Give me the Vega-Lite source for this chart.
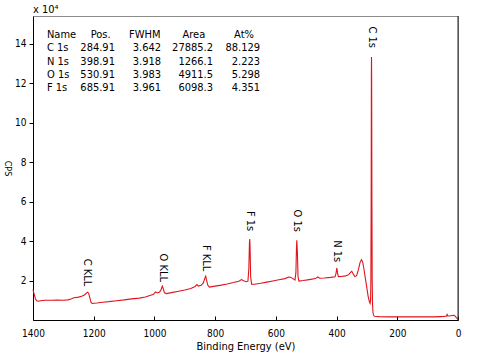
{
  "$schema": "https://vega.github.io/schema/vega-lite/v6.json",
  "width": 425,
  "height": 304,
  "autosize": {"type": "none"},
  "padding": {"left": 33, "top": 16, "right": 32, "bottom": 38},
  "background": "white",
  "config": {
    "font": "DejaVu Sans Condensed, DejaVu Sans, sans-serif",
    "view": {"stroke": "#8c8c8c", "strokeWidth": 1},
    "axis": {"grid": false, "labelColor": "#000", "titleColor": "#000", "domainColor": "#000", "tickColor": "#000", "titleFontWeight": "normal", "labelFont": "DejaVu Sans Condensed, DejaVu Sans, sans-serif", "titleFont": "DejaVu Sans Condensed, DejaVu Sans, sans-serif"},
    "text": {"font": "DejaVu Sans Condensed, DejaVu Sans, sans-serif", "color": "#000"}
  },
  "title": {"text": "x 10⁴", "anchor": "start", "frame": "group", "fontSize": 11, "fontWeight": "normal", "offset": 1, "color": "#000", "font": "DejaVu Sans Condensed, DejaVu Sans, sans-serif"},
  "datasets": {
    "spectrum": [
      {"be": 1400, "cps": 1.54}, {"be": 1396, "cps": 1.3}, {"be": 1392, "cps": 1.08}, {"be": 1388, "cps": 0.97}, {"be": 1383, "cps": 0.95},
      {"be": 1375, "cps": 0.98}, {"be": 1360, "cps": 1.0}, {"be": 1340, "cps": 1.0}, {"be": 1320, "cps": 1.01}, {"be": 1300, "cps": 1.0},
      {"be": 1285, "cps": 1.02}, {"be": 1275, "cps": 1.06}, {"be": 1265, "cps": 1.13}, {"be": 1250, "cps": 1.16}, {"be": 1240, "cps": 1.2},
      {"be": 1232, "cps": 1.25}, {"be": 1226, "cps": 1.33}, {"be": 1221, "cps": 1.41}, {"be": 1217, "cps": 1.37}, {"be": 1213, "cps": 1.15},
      {"be": 1209, "cps": 0.9}, {"be": 1205, "cps": 0.84}, {"be": 1190, "cps": 0.86}, {"be": 1170, "cps": 0.9}, {"be": 1150, "cps": 0.93},
      {"be": 1125, "cps": 0.98}, {"be": 1100, "cps": 1.02}, {"be": 1075, "cps": 1.07}, {"be": 1050, "cps": 1.11}, {"be": 1030, "cps": 1.17},
      {"be": 1015, "cps": 1.24}, {"be": 1003, "cps": 1.3}, {"be": 997, "cps": 1.42}, {"be": 991, "cps": 1.37}, {"be": 983, "cps": 1.42},
      {"be": 978, "cps": 1.55}, {"be": 974, "cps": 1.72}, {"be": 971, "cps": 1.6}, {"be": 967, "cps": 1.38}, {"be": 960, "cps": 1.34},
      {"be": 940, "cps": 1.4}, {"be": 920, "cps": 1.46}, {"be": 900, "cps": 1.52}, {"be": 880, "cps": 1.6}, {"be": 866, "cps": 1.7},
      {"be": 860, "cps": 1.8}, {"be": 855, "cps": 1.72}, {"be": 846, "cps": 1.76}, {"be": 839, "cps": 1.88}, {"be": 834, "cps": 2.12},
      {"be": 831, "cps": 2.22}, {"be": 828, "cps": 2.0}, {"be": 824, "cps": 1.76}, {"be": 819, "cps": 1.67}, {"be": 800, "cps": 1.72},
      {"be": 780, "cps": 1.77}, {"be": 760, "cps": 1.83}, {"be": 740, "cps": 1.9}, {"be": 722, "cps": 1.97}, {"be": 713, "cps": 2.05},
      {"be": 706, "cps": 1.99}, {"be": 698, "cps": 1.94}, {"be": 692, "cps": 1.97}, {"be": 689, "cps": 2.6}, {"be": 687, "cps": 3.9},
      {"be": 686, "cps": 4.11}, {"be": 685, "cps": 3.7}, {"be": 683, "cps": 2.2}, {"be": 680, "cps": 1.82}, {"be": 670, "cps": 1.81},
      {"be": 650, "cps": 1.86}, {"be": 630, "cps": 1.92}, {"be": 610, "cps": 1.98}, {"be": 590, "cps": 2.04}, {"be": 570, "cps": 2.1},
      {"be": 558, "cps": 2.18}, {"be": 552, "cps": 2.17}, {"be": 544, "cps": 2.1}, {"be": 537, "cps": 2.03}, {"be": 534, "cps": 2.4},
      {"be": 532, "cps": 3.7}, {"be": 531, "cps": 4.04}, {"be": 529, "cps": 3.4}, {"be": 527, "cps": 2.2}, {"be": 524, "cps": 1.97},
      {"be": 510, "cps": 2.0}, {"be": 490, "cps": 2.05}, {"be": 470, "cps": 2.1}, {"be": 462, "cps": 2.18}, {"be": 456, "cps": 2.12},
      {"be": 440, "cps": 2.13}, {"be": 420, "cps": 2.16}, {"be": 405, "cps": 2.19}, {"be": 402, "cps": 2.35}, {"be": 399, "cps": 2.64},
      {"be": 397, "cps": 2.4}, {"be": 394, "cps": 2.2}, {"be": 385, "cps": 2.21}, {"be": 370, "cps": 2.24}, {"be": 360, "cps": 2.3},
      {"be": 354, "cps": 2.42}, {"be": 350, "cps": 2.47}, {"be": 346, "cps": 2.36}, {"be": 340, "cps": 2.2}, {"be": 334, "cps": 2.25},
      {"be": 328, "cps": 2.55}, {"be": 323, "cps": 2.9}, {"be": 318, "cps": 3.06}, {"be": 314, "cps": 2.95}, {"be": 310, "cps": 2.6},
      {"be": 305, "cps": 2.1}, {"be": 300, "cps": 1.6}, {"be": 296, "cps": 1.2}, {"be": 292, "cps": 0.92}, {"be": 289.5, "cps": 0.84},
      {"be": 288, "cps": 1.0}, {"be": 287, "cps": 2.0}, {"be": 286, "cps": 6.0}, {"be": 285.3, "cps": 12.5}, {"be": 284.9, "cps": 13.34},
      {"be": 284.4, "cps": 12.0}, {"be": 283.6, "cps": 6.0}, {"be": 282.7, "cps": 2.0}, {"be": 281.5, "cps": 0.8}, {"be": 280, "cps": 0.38},
      {"be": 278, "cps": 0.24}, {"be": 275, "cps": 0.19}, {"be": 260, "cps": 0.17}, {"be": 230, "cps": 0.16}, {"be": 200, "cps": 0.16},
      {"be": 170, "cps": 0.16}, {"be": 140, "cps": 0.16}, {"be": 110, "cps": 0.16}, {"be": 80, "cps": 0.16}, {"be": 60, "cps": 0.17},
      {"be": 45, "cps": 0.18}, {"be": 38, "cps": 0.2}, {"be": 36, "cps": 0.28}, {"be": 34, "cps": 0.2}, {"be": 28, "cps": 0.2},
      {"be": 20, "cps": 0.23}, {"be": 15, "cps": 0.24}, {"be": 11, "cps": 0.22}, {"be": 7, "cps": 0.15}, {"be": 3, "cps": 0.08},
      {"be": 0, "cps": 0.04}
    ],
    "peaks": [
      {"label": "C 1s", "be": 284.9, "labelY": 13.8},
      {"label": "F 1s", "be": 685.9, "labelY": 4.5},
      {"label": "O 1s", "be": 530.9, "labelY": 4.47},
      {"label": "N 1s", "be": 398.9, "labelY": 2.93},
      {"label": "F KLL", "be": 830, "labelY": 2.47},
      {"label": "C KLL", "be": 1221, "labelY": 1.71},
      {"label": "O KLL", "be": 973, "labelY": 1.93}
    ],
    "header": [
      {"Name": "Name", "Pos": "Pos.", "FWHM": "FWHM", "Area": "Area", "At": "At%", "row": 0}
    ],
    "table": [
      {"Name": "C 1s", "Pos": "284.91", "FWHM": "3.642", "Area": "27885.2", "At": "88.129", "row": 1},
      {"Name": "N 1s", "Pos": "398.91", "FWHM": "3.918", "Area": "1266.1", "At": "2.223", "row": 2},
      {"Name": "O 1s", "Pos": "530.91", "FWHM": "3.983", "Area": "4911.5", "At": "5.298", "row": 3},
      {"Name": "F 1s", "Pos": "685.91", "FWHM": "3.961", "Area": "6098.3", "At": "4.351", "row": 4}
    ]
  },
  "layer": [
    {
      "layer": [
        {
          "data": {"name": "spectrum"},
          "mark": {"type": "line", "color": "#e0141c", "strokeWidth": 1.1},
          "encoding": {
            "x": {"field": "be", "type": "quantitative", "title": "Binding Energy (eV)",
              "scale": {"domain": [0, 1400], "reverse": true, "nice": false, "zero": false},
              "axis": {"values": [0,50,100,150,200,250,300,350,400,450,500,550,600,650,700,750,800,850,900,950,1000,1050,1100,1150,1200,1250,1300,1350,1400],
                "format": "d", "labelExpr": "datum.value % 200 === 0 ? datum.label : ''",
                "tickSize": -4, "labelPadding": 12, "labelFontSize": 10, "titleFontSize": 11, "titlePadding": 2,
                "labelOverlap": false, "labelFlush": false}},
            "y": {"field": "cps", "type": "quantitative", "title": "CPS",
              "scale": {"domain": [0, 15.42], "nice": false, "zero": true},
              "axis": {"values": [2,4,6,8,10,12,14], "format": "d",
                "tickSize": 4, "labelPadding": 3, "labelFontSize": 10, "titleFontSize": 9, "titleAngle": 90,
                "titleBaseline": "top", "titlePadding": 3}}
          }
        },
        {
          "data": {"name": "peaks"},
          "mark": {"type": "text", "angle": 90, "align": "right", "baseline": "middle", "fontSize": 11, "color": "#000"},
          "encoding": {
            "x": {"field": "be", "type": "quantitative", "title": "Binding Energy (eV)"},
            "y": {"field": "labelY", "type": "quantitative", "title": "CPS", "scale": {"domain": [0, 15.42], "nice": false}},
            "text": {"field": "label"}
          }
        },
        {
          "data": {"values": [{}]},
          "mark": {"type": "rule", "color": "#222", "strokeWidth": 1},
          "encoding": {"x": {"datum": 0, "type": "quantitative"}}
        }
      ]
    },
    {
      "layer": [
        {"data": {"name": "header"}, "mark": {"type": "text", "align": "left", "baseline": "middle", "fontSize": 11},
          "encoding": {"x": {"datum": 1354, "type": "quantitative"}, "y": {"field": "row", "type": "quantitative", "scale": {"domain": [-1.43, 21.43], "reverse": true, "nice": false, "zero": false}, "axis": null}, "text": {"field": "Name"}}},
        {"data": {"name": "header"}, "mark": {"type": "text", "align": "center", "baseline": "middle", "fontSize": 11},
          "encoding": {"x": {"datum": 1177, "type": "quantitative"}, "y": {"field": "row", "type": "quantitative", "axis": null}, "text": {"field": "Pos"}}},
        {"data": {"name": "header"}, "mark": {"type": "text", "align": "center", "baseline": "middle", "fontSize": 11},
          "encoding": {"x": {"datum": 1032, "type": "quantitative"}, "y": {"field": "row", "type": "quantitative", "axis": null}, "text": {"field": "FWHM"}}},
        {"data": {"name": "header"}, "mark": {"type": "text", "align": "center", "baseline": "middle", "fontSize": 11},
          "encoding": {"x": {"datum": 870, "type": "quantitative"}, "y": {"field": "row", "type": "quantitative", "axis": null}, "text": {"field": "Area"}}},
        {"data": {"name": "header"}, "mark": {"type": "text", "align": "center", "baseline": "middle", "fontSize": 11},
          "encoding": {"x": {"datum": 705, "type": "quantitative"}, "y": {"field": "row", "type": "quantitative", "axis": null}, "text": {"field": "At"}}},
        {"data": {"name": "table"}, "mark": {"type": "text", "align": "left", "baseline": "middle", "fontSize": 11},
          "encoding": {"x": {"datum": 1354, "type": "quantitative"}, "y": {"field": "row", "type": "quantitative", "axis": null}, "text": {"field": "Name"}}},
        {"data": {"name": "table"}, "mark": {"type": "text", "align": "right", "baseline": "middle", "fontSize": 11},
          "encoding": {"x": {"datum": 1130, "type": "quantitative"}, "y": {"field": "row", "type": "quantitative", "axis": null}, "text": {"field": "Pos"}}},
        {"data": {"name": "table"}, "mark": {"type": "text", "align": "right", "baseline": "middle", "fontSize": 11},
          "encoding": {"x": {"datum": 978, "type": "quantitative"}, "y": {"field": "row", "type": "quantitative", "axis": null}, "text": {"field": "FWHM"}}},
        {"data": {"name": "table"}, "mark": {"type": "text", "align": "right", "baseline": "middle", "fontSize": 11},
          "encoding": {"x": {"datum": 807, "type": "quantitative"}, "y": {"field": "row", "type": "quantitative", "axis": null}, "text": {"field": "Area"}}},
        {"data": {"name": "table"}, "mark": {"type": "text", "align": "right", "baseline": "middle", "fontSize": 11},
          "encoding": {"x": {"datum": 652, "type": "quantitative"}, "y": {"field": "row", "type": "quantitative", "axis": null}, "text": {"field": "At"}}}
      ]
    }
  ],
  "resolve": {"scale": {"y": "independent"}}
}
